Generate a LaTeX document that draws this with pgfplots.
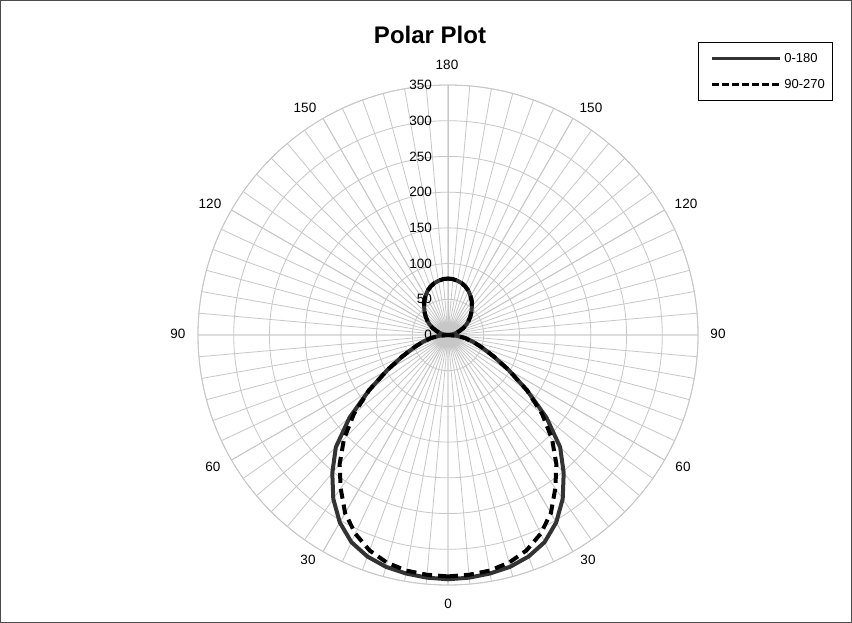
\documentclass[border=0pt]{standalone}
\usepackage{pgfplots}
\pgfplotsset{compat=1.18}
\usepackage{pgfplotstable}
\usepgfplotslibrary{polar}
\usepackage{fontspec}
\setmainfont{Liberation Sans}

% angle from the 0 direction (bottom) and radius
\pgfplotstableread{
t r
0 342
5 341
10 339
15 336
20 330
25 320
30 303
35 280
40 252
45 222
50 180
55 135
60 98
65 70
70 50
75 36
80 24
85 12
90 0
95 4
100 8
105 13
110 18
115 24
120 30
125 35.5
130 41
135 46.5
140 52
145 58
150 63
155 68
160 72
165 75
170 77
175 78.5
180 79
}\solidtab

\pgfplotstableread{
t r
0 338
5 337
10 335
15 330
20 321
25 307
30 288
35 262
40 236
45 206
50 172
55 135
60 98
65 70
70 50
75 36
80 24
85 12
90 0
95 4
100 8
105 13
110 18
115 24
120 30
125 35.5
130 41
135 46.5
140 52
145 58
150 63
155 68
160 72
165 75
170 77
175 78.5
180 79
}\dashtab

\begin{document}
\begin{tikzpicture}[x=1pt,y=1pt]
\fill[white] (0,0) rectangle (852,623);
\draw[black!70, line width=0.8pt] (0.4,0.4) rectangle (851.6,622.6);
\node[font=\fontsize{24}{28}\selectfont\bfseries] at (430,588) {Polar Plot};
\begin{polaraxis}[
  at={(448pt,288pt)}, anchor=center,
  scale only axis, width=500pt, height=500pt,
  xmin=90, xmax=450, ymin=0, ymax=350,
  xtick={90,120,...,420},
  minor xtick={90,95,...,445},
  xticklabels={},
  ytick={0,50,...,350},
  /pgf/number format/assume math mode=true,
  grid=both,
  major grid style={draw=black!22, line width=0.8pt},
  minor grid style={draw=black!22, line width=0.8pt},
  axis line style={draw=black!22, line width=0.8pt},
  major tick length=0pt, minor tick length=0pt,
  yticklabel style={font=\fontsize{13.5}{16}\selectfont, anchor=east, inner sep=0pt, xshift=-16pt},
  clip=false,
  legend style={at={(1.0,1.086)}, anchor=north west, draw=black, line width=0.8pt, fill=white,
    font=\fontsize{13}{14}\selectfont, inner xsep=6pt, inner ysep=9pt, row sep=11pt},
  legend cell align=left,
  legend image code/.code={\path[draw=none] (0pt,0pt) -- (78pt,0pt); \draw[#1] (8pt,0pt) -- (76pt,0pt);},
]
\addplot[draw=black!80, line width=4pt, line join=round, legend image post style={line width=2.8pt}]
  table[x expr=270+\thisrow{t}, y=r] {\solidtab};
\addlegendentry{0-180}
\addplot[draw=black!80, line width=4pt, line join=round, forget plot]
  table[x expr=270-\thisrow{t}, y=r] {\solidtab};
\addplot[draw=black, line width=4pt, dash pattern=on 10pt off 6pt, legend image post style={line width=2.8pt, dash pattern=on 7pt off 3pt}]
  table[x expr=270+\thisrow{t}, y=r] {\dashtab};
\addlegendentry{90-270}
\addplot[draw=black, line width=4pt, dash pattern=on 10pt off 6pt, forget plot]
  table[x expr=270-\thisrow{t}, y=r] {\dashtab};
\end{polaraxis}
\begin{scope}[font=\fontsize{13.5}{16}\selectfont]
\node at (447,558) {180};
\node at (305,515) {150};
\node at (591,515) {150};
\node at (210,419) {120};
\node at (686,419) {120};
\node at (178,289) {90};
\node at (718,289) {90};
\node at (213,156) {60};
\node at (683,156) {60};
\node at (308,63) {30};
\node at (588,63) {30};
\node at (448,19) {0};
\end{scope}
\end{tikzpicture}
\end{document}
